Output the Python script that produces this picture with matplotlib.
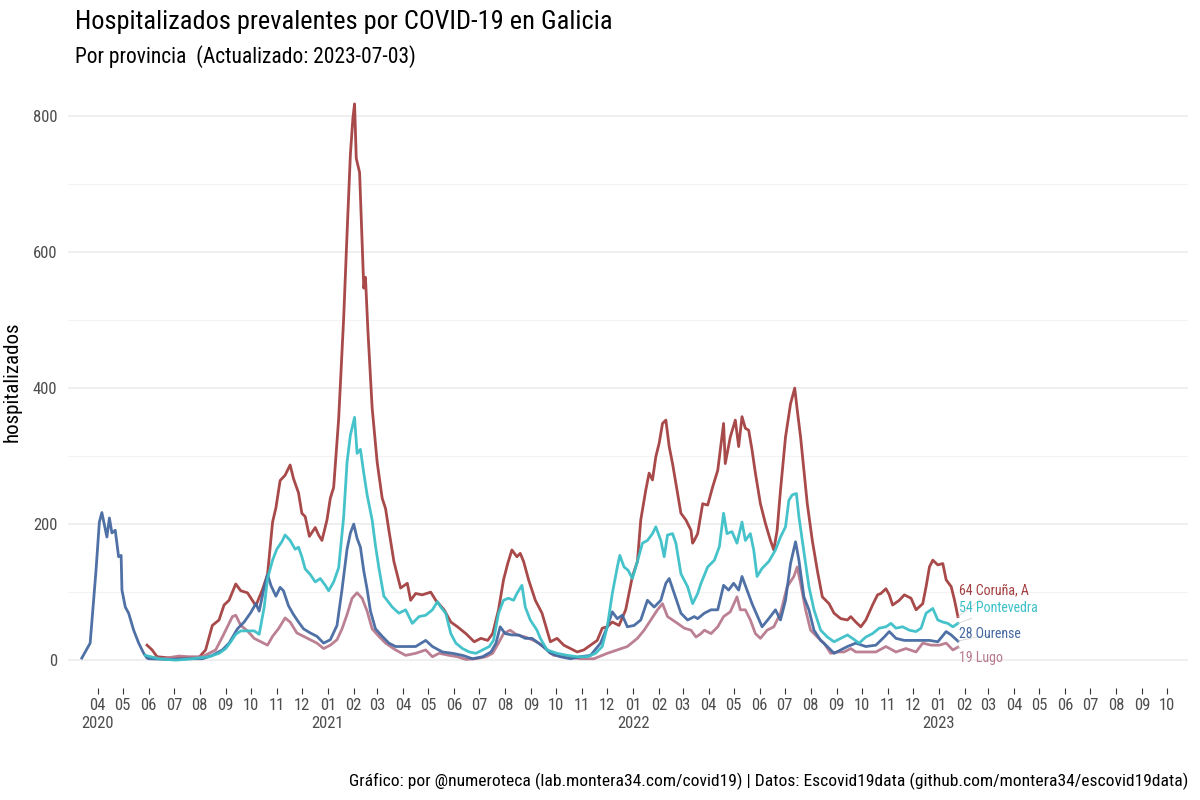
'''Hospitalizados prevalentes por COVID-19 en Galicia, por provincia'''
import pandas as pd
import matplotlib
matplotlib.use('Agg')
import matplotlib.pyplot as plt
from matplotlib import font_manager
from matplotlib.ticker import NullLocator

# pick a condensed font if one is installed
names = {f.name for f in font_manager.fontManager.ttflist}
font = 'DejaVu Sans'
for fam in ['Roboto Condensed', 'Liberation Sans Narrow', 'Roboto']:
    if fam in names:
        font = fam
        break
plt.rcParams['font.family'] = [font, 'DejaVu Sans']

ORIGIN = pd.Timestamp('2020-04-01')

# days since ORIGIN and hospitalised counts
coruna_days = [59, 65, 71, 87, 105, 121, 129, 137, 145, 151, 157, 165, 171, 179, 189, 197,
               203, 209, 213, 218, 224, 230, 234, 240, 244, 248, 253, 260, 264, 268, 274,
               278, 282, 288, 294, 298, 302, 305, 307, 309, 313, 318, 320, 323, 328, 334,
               340, 344, 348, 354, 362, 370, 374, 380, 388, 398, 404, 414, 422, 430, 440,
               450, 458, 466, 472, 479, 485, 490, 495, 501, 505, 509, 515, 523, 531, 535,
               541, 549, 557, 565, 573, 581, 589, 597, 603, 609, 615, 623, 631, 639, 645,
               649, 655, 659, 663, 667, 671, 675, 679, 683, 687, 691, 697, 703, 709, 711,
               713, 717, 723, 729, 735, 741, 748, 750, 756, 762, 766, 770, 774, 778, 782,
               786, 792, 798, 804, 808, 812, 816, 822, 828, 833, 836, 840, 844, 848, 854,
               860, 866, 874, 880, 888, 896, 900, 906, 912, 918, 926, 932, 936, 942, 946,
               950, 958, 964, 972, 978, 986, 990, 994, 998, 1004, 1010, 1014, 1020, 1024, 1028]
coruna_vals = [22, 15, 5, 3, 4, 4, 15, 51, 59, 81, 88, 112, 102, 99, 80, 104,
               126, 203, 224, 264, 272, 287, 267, 246, 216, 211, 182, 195, 184, 176, 206,
               238, 254, 355, 504, 627, 744, 797, 818, 738, 717, 547, 563, 483, 371, 291,
               238, 223, 191, 145, 106, 113, 88, 98, 96, 100, 88, 74, 56, 49, 39,
               27, 32, 29, 39, 74, 118, 142, 162, 152, 157, 145, 118, 88, 69, 52,
               27, 32, 22, 17, 12, 15, 22, 29, 47, 49, 56, 51, 74, 123, 145,
               206, 250, 275, 265, 299, 319, 348, 353, 314, 289, 260, 216, 206, 191, 172,
               176, 186, 230, 228, 255, 279, 348, 289, 328, 353, 314, 358, 341, 338, 309,
               275, 230, 201, 176, 162, 191, 250, 328, 377, 400, 368, 328, 279, 230, 176,
               132, 93, 83, 69, 61, 59, 64, 56, 49, 59, 81, 96, 98, 105, 96,
               81, 88, 96, 91, 74, 83, 108, 137, 147, 140, 142, 118, 108, 88, 64]

lugo_days = [59, 77, 97, 109, 125, 141, 149, 155, 161, 165, 171, 179, 187, 195, 203, 209,
             216, 224, 230, 238, 246, 254, 262, 270, 278, 286, 292, 298, 304, 310, 316,
             322, 328, 336, 344, 356, 368, 380, 392, 400, 408, 420, 430, 440, 452, 464,
             472, 479, 485, 493, 501, 511, 521, 531, 545, 561, 577, 593, 609, 621, 633,
             645, 653, 661, 669, 675, 681, 687, 693, 701, 709, 715, 721, 725, 733, 741,
             748, 756, 764, 768, 774, 780, 786, 792, 800, 808, 816, 824, 832, 836, 840,
             846, 852, 860, 868, 876, 884, 892, 900, 906, 918, 930, 942, 954, 966, 978,
             986, 996, 1006, 1014, 1022, 1028]
lugo_vals = [5, 2, 6, 5, 5, 15, 34, 49, 64, 66, 51, 43, 32, 27, 22, 35,
             46, 62, 56, 40, 35, 30, 25, 17, 22, 30, 46, 67, 91, 99, 91,
             72, 46, 35, 25, 15, 7, 10, 15, 5, 10, 7, 5, 1, 2, 5,
             10, 25, 39, 44, 37, 34, 29, 22, 7, 5, 2, 2, 10, 15, 20,
             32, 44, 59, 74, 83, 64, 59, 54, 47, 44, 34, 39, 44, 39, 49,
             64, 71, 93, 74, 74, 59, 39, 32, 44, 49, 69, 108, 123, 137, 113,
             74, 44, 34, 25, 10, 12, 12, 17, 12, 12, 12, 20, 12, 17, 12,
             25, 22, 22, 25, 15, 19]

ourense_days = [-19, -9, -2, 2, 5, 11, 14, 17, 21, 25, 28, 29, 33, 37, 43, 49, 55, 59, 61,
                87, 111, 125, 137, 149, 157, 167, 175, 183, 189, 193, 199, 203, 207, 213,
                218, 222, 228, 234, 240, 246, 254, 262, 270, 278, 286, 292, 298, 302, 306,
                310, 314, 318, 322, 326, 332, 340, 348, 356, 368, 380, 392, 400, 412, 424,
                436, 448, 460, 470, 476, 481, 487, 495, 503, 511, 519, 527, 535, 541, 553,
                565, 577, 589, 601, 609, 615, 621, 627, 633, 641, 649, 657, 665, 673, 679,
                683, 689, 697, 705, 713, 717, 725, 733, 741, 748, 754, 760, 766, 770, 776,
                782, 788, 794, 802, 810, 816, 822, 828, 834, 838, 844, 850, 856, 864, 872,
                880, 888, 896, 906, 918, 930, 940, 946, 954, 964, 974, 984, 994, 1004, 1014,
                1020, 1028]
ourense_vals = [3, 25, 132, 203, 217, 181, 209, 187, 191, 152, 154, 103, 78, 69, 44, 25, 10, 3, 2,
                1, 2, 2, 7, 15, 25, 46, 56, 70, 83, 72, 107, 126, 110, 94,
                107, 102, 80, 67, 56, 46, 40, 35, 25, 30, 51, 104, 163, 187, 200,
                179, 166, 131, 104, 72, 46, 35, 25, 20, 20, 20, 29, 20, 12, 10,
                7, 2, 5, 12, 25, 49, 39, 37, 37, 32, 32, 25, 17, 10, 5,
                2, 5, 7, 25, 49, 71, 61, 66, 49, 51, 59, 88, 78, 88, 113,
                120, 98, 69, 59, 64, 61, 69, 74, 74, 110, 103, 113, 103, 123, 103,
                83, 66, 49, 61, 74, 59, 88, 142, 174, 147, 93, 74, 44, 29, 20,
                10, 15, 20, 25, 20, 22, 34, 42, 32, 29, 29, 29, 29, 27, 42,
                37, 28]

pontevedra_days = [57, 73, 93, 113, 133, 145, 153, 159, 165, 171, 179, 187, 193, 199, 203,
                   209, 214, 220, 224, 230, 236, 240, 244, 248, 254, 260, 266, 272, 276,
                   282, 288, 294, 298, 302, 307, 310, 314, 318, 322, 328, 332, 336, 342,
                   344, 352, 360, 368, 376, 384, 392, 400, 406, 410, 416, 422, 428, 436,
                   444, 452, 460, 468, 473, 479, 485, 491, 497, 501, 507, 511, 517, 525,
                   529, 537, 549, 561, 573, 585, 595, 603, 609, 615, 621, 624, 629, 634,
                   639, 645, 651, 657, 663, 667, 673, 677, 681, 687, 691, 697, 705, 711,
                   717, 721, 729, 737, 743, 748, 752, 758, 764, 770, 774, 780, 784, 788,
                   794, 802, 810, 816, 822, 826, 830, 835, 838, 842, 846, 850, 856, 864,
                   872, 880, 888, 896, 902, 910, 918, 926, 934, 942, 948, 954, 962, 970,
                   978, 984, 990, 998, 1004, 1010, 1016, 1022, 1028]
pontevedra_vals = [7, 2, 0, 2, 5, 10, 17, 27, 38, 43, 43, 43, 38, 78, 120,
                   147, 163, 174, 184, 176, 163, 166, 152, 134, 126, 115, 120, 110, 102,
                   115, 136, 211, 291, 331, 357, 304, 310, 275, 243, 206, 168, 136, 94,
                   91, 78, 69, 74, 54, 64, 66, 74, 86, 78, 69, 39, 25, 17,
                   12, 10, 15, 20, 29, 69, 88, 91, 88, 98, 110, 78, 59, 44,
                   32, 15, 10, 7, 5, 5, 10, 20, 49, 98, 137, 154, 137, 132,
                   120, 145, 172, 176, 186, 196, 176, 152, 184, 186, 172, 127, 108, 83,
                   98, 113, 137, 147, 167, 216, 186, 189, 172, 203, 176, 186, 162, 123,
                   135, 145, 162, 181, 196, 235, 243, 245, 211, 176, 142, 108, 74, 44,
                   34, 27, 32, 37, 32, 25, 34, 39, 47, 49, 54, 47, 49, 44,
                   42, 47, 69, 76, 59, 56, 54, 49, 54]

provinces = ['Coruña, A', 'Lugo', 'Ourense', 'Pontevedra']
colors = ['#a43f40', '#b87a8d', '#4569a1', '#3cc0c8']
series = [(coruna_days, coruna_vals), (lugo_days, lugo_vals),
          (ourense_days, ourense_vals), (pontevedra_days, pontevedra_vals)]
label_y = [103, 3, 38, 76]

fig = plt.figure(figsize=(12, 8), dpi=100)
ax = fig.add_axes([0.057, 0.14, 0.933, 0.765])

for (days, vals), name, col, ly in zip(series, provinces, colors, label_y):
    dates = ORIGIN + pd.to_timedelta(days, unit='D')
    ax.plot(dates, vals, color=col, lw=2.0, alpha=0.95, solid_joinstyle='round')
    # label at the end of each line, nudged apart as in ggrepel
    end = dates[-1]
    ax.annotate(f'{vals[-1]} {name}', xy=(end, vals[-1]),
                xytext=(end + pd.Timedelta(days=1), ly),
                color=col, fontsize=10, va='center', ha='left',
                arrowprops=dict(arrowstyle='-', color='#cccccc', lw=0.5,
                                shrinkA=0, shrinkB=0))

ax.set_xlim(pd.Timestamp('2020-02-26'), pd.Timestamp('2023-10-26'))
ax.set_ylim(-41, 859)
ax.set_yticks([0, 200, 400, 600, 800])
ax.set_yticks([100, 300, 500, 700], minor=True)
ax.grid(axis='y', which='major', color='#ebebeb', lw=1.1)
ax.grid(axis='y', which='minor', color='#f3f3f3', lw=0.8)
ax.set_axisbelow(True)

ticks = pd.date_range('2020-04-01', '2023-10-01', freq='MS')
labels = []
for i, t in enumerate(ticks):
    if t.month == 1 or i == 0:
        labels.append(t.strftime('%m') + '\n' + t.strftime('%Y'))
    else:
        labels.append(t.strftime('%m'))
ax.set_xticks(ticks)
ax.set_xticklabels(labels, linespacing=1.25)
ax.xaxis.set_minor_locator(NullLocator())

for s in ax.spines.values():
    s.set_visible(False)
ax.tick_params(axis='x', which='major', length=4, width=0.8, color='#333333',
               labelsize=12, labelcolor='#4d4d4d', pad=3)
ax.tick_params(axis='y', which='both', length=0, labelsize=12, labelcolor='#4d4d4d', pad=8)
ax.set_ylabel('hospitalizados', fontsize=15, labelpad=8)

fig.text(0.0625, 0.964, 'Hospitalizados prevalentes por COVID-19 en Galicia',
         fontsize=19, va='baseline', ha='left')
fig.text(0.0625, 0.921, 'Por provincia  (Actualizado: 2023-07-03)',
         fontsize=15.5, va='baseline', ha='left')
fig.text(0.99, 0.017,
         'Gráfico: por @numeroteca (lab.montera34.com/covid19) | Datos: Escovid19data (github.com/montera34/escovid19data)',
         fontsize=12.6, va='baseline', ha='right')

fig.savefig('out.png', dpi=100)
